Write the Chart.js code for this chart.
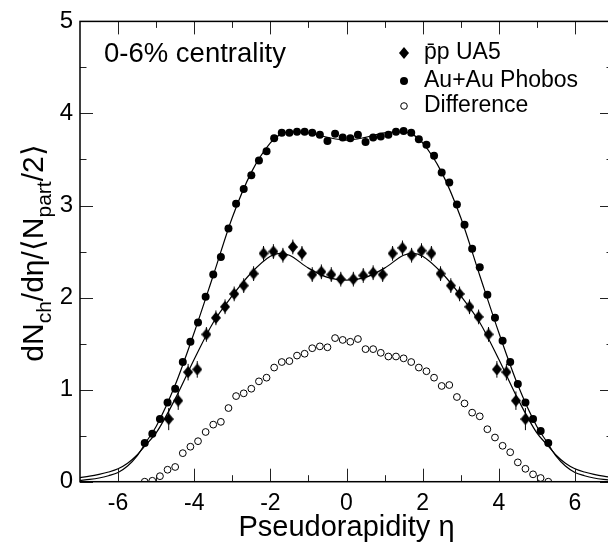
<!DOCTYPE html>
<html>
<head>
<meta charset="utf-8">
<script src="https://cdn.jsdelivr.net/npm/chart.js@4.4.0/dist/chart.umd.min.js"></script>
<style>
  html, body { margin: 0; padding: 0; background: #fff; overflow: hidden; }
  #wrap { width: 620px; height: 548px; }
</style>
</head>
<body>
<div id="wrap"><canvas id="chart" width="620" height="548"></canvas></div>
<script>
// Au+Au Phobos, 0-6% centrality
const phobosEta = [-5.3, -5.1, -4.9, -4.7, -4.5, -4.3, -4.1, -3.9, -3.7, -3.5, -3.3, -3.1, -2.9, -2.7,
  -2.5, -2.3, -2.1, -1.9, -1.7, -1.5, -1.3, -1.1, -0.9, -0.7, -0.5, -0.3, -0.1,
  0.1, 0.3, 0.5, 0.7, 0.9, 1.1, 1.3, 1.5, 1.7, 1.9, 2.1, 2.3, 2.5, 2.7,
  2.9, 3.1, 3.3, 3.5, 3.7, 3.9, 4.1, 4.3, 4.5, 4.7, 4.9, 5.1, 5.3];
const phobosVal = [0.42, 0.52, 0.68, 0.86, 1.01, 1.30, 1.52, 1.73, 2.01, 2.25, 2.44, 2.75, 3.02, 3.18,
  3.33, 3.49, 3.59, 3.73, 3.79, 3.79, 3.80, 3.80, 3.79, 3.77, 3.70, 3.78, 3.74,
  3.73, 3.77, 3.69, 3.74, 3.75, 3.77, 3.80, 3.81, 3.79, 3.72, 3.66, 3.54, 3.36, 3.25,
  3.01, 2.79, 2.53, 2.33, 2.03, 1.78, 1.53, 1.30, 1.06, 0.86, 0.68, 0.55, 0.42];

// Difference (Au+Au minus pp), same eta bins
const diffVal = [0.00, 0.01, 0.06, 0.13, 0.16, 0.31, 0.38, 0.44, 0.54, 0.62, 0.65, 0.80, 0.93, 0.96,
  1.01, 1.09, 1.13, 1.24, 1.30, 1.31, 1.37, 1.39, 1.45, 1.47, 1.46, 1.56, 1.54,
  1.52, 1.55, 1.44, 1.44, 1.40, 1.36, 1.36, 1.34, 1.30, 1.24, 1.20, 1.13, 1.04, 1.05,
  0.92, 0.85, 0.75, 0.71, 0.57, 0.48, 0.39, 0.32, 0.21, 0.14, 0.08, 0.04, 0.00];

// pp-bar UA5
const ua5Eta = [-4.67, -4.42, -4.16, -3.92, -3.68, -3.43, -3.19, -2.95, -2.70, -2.44, -2.18, -1.92,
  -1.67, -1.41, -1.17, -0.90, -0.66, -0.40, -0.15,
  0.18, 0.44, 0.70, 0.95, 1.21, 1.47, 1.71, 1.97, 2.23, 2.47, 2.74, 2.97, 3.23, 3.47, 3.73,
  3.95, 4.20, 4.45, 4.70];
const ua5Val = [0.68, 0.88, 1.19, 1.22, 1.60, 1.78, 1.90, 2.04, 2.13, 2.26, 2.48, 2.50,
  2.46, 2.55, 2.48, 2.25, 2.28, 2.25, 2.20,
  2.20, 2.24, 2.27, 2.25, 2.48, 2.54, 2.46, 2.51, 2.48, 2.26, 2.13, 2.04, 1.90, 1.79, 1.60,
  1.22, 1.19, 0.88, 0.68];
const ua5Err = [0.12, 0.10, 0.09, 0.09, 0.08, 0.08, 0.08, 0.08, 0.08, 0.08, 0.08, 0.08,
  0.08, 0.08, 0.08, 0.08, 0.08, 0.08, 0.08,
  0.08, 0.08, 0.08, 0.08, 0.08, 0.08, 0.08, 0.08, 0.08, 0.08, 0.08, 0.08, 0.08, 0.08, 0.08,
  0.09, 0.09, 0.10, 0.12];

const curveEta = [-7, -6.75, -6.5, -6.25, -6, -5.75, -5.5, -5.25, -5, -4.5, -4, -3.5, -3, -2.5, -2, -1.75,
  -1.5, -1, -0.5, 0, 0.5, 1, 1.5, 1.75, 2, 2.5, 3, 3.5, 4, 4.5, 5, 5.25, 5.5, 5.75, 6, 6.25, 6.5, 6.75, 7];
const phobosFit = [0.015, 0.025, 0.04, 0.065, 0.10, 0.17, 0.28, 0.44, 0.60, 1.05, 1.62, 2.24, 2.87, 3.36, 3.68, 3.77,
  3.80, 3.79, 3.74, 3.71, 3.74, 3.79, 3.80, 3.77, 3.68, 3.36, 2.87, 2.24, 1.62, 1.05, 0.60, 0.44, 0.28, 0.17, 0.10, 0.065, 0.04, 0.025, 0.015];
const ua5Fit = [0.045, 0.06, 0.08, 0.105, 0.14, 0.20, 0.29, 0.41, 0.53, 0.90, 1.33, 1.73, 2.02, 2.27, 2.45, 2.48,
  2.46, 2.32, 2.22, 2.19, 2.22, 2.32, 2.46, 2.48, 2.45, 2.27, 2.02, 1.73, 1.33, 0.90, 0.53, 0.41, 0.29, 0.20, 0.14, 0.105, 0.08, 0.06, 0.045];

const xTicks = [-6, -4, -2, 0, 2, 4, 6];
const xMinor = [-5, -3, -1, 1, 3, 5];
const yTicks = [0, 1, 2, 3, 4, 5];
const yMinor = [0.5, 1.5, 2.5, 3.5, 4.5];

const legendLabels = ['p\u0304p UA5', 'Au+Au Phobos', 'Difference'];
const note = '0-6% centrality';
const FONT = '"Liberation Sans", Arial, Helvetica, sans-serif';

const pts = (xs, ys) => xs.map((x, i) => ({ x: x, y: ys[i] }));

// a diamond a little taller than wide, used as point style
function diamond(w, h) {
  const c = document.createElement('canvas');
  c.width = w; c.height = h;
  const g = c.getContext('2d');
  g.fillStyle = '#000';
  g.beginPath();
  g.moveTo(w / 2, 0); g.lineTo(w, h / 2); g.lineTo(w / 2, h); g.lineTo(0, h / 2);
  g.closePath(); g.fill();
  return c;
}
const diamondMark = diamond(10, 12);

// error bars under the diamonds, then frame, ticks, titles, legend, note on top
const framePlugin = {
  id: 'frame',
  beforeDatasetsDraw(chart) {
    const ctx = chart.ctx;
    const meta = chart.getDatasetMeta(2);
    const ys = chart.scales.y;
    ctx.save();
    ctx.strokeStyle = '#000';
    ctx.lineWidth = 1;
    meta.data.forEach((p, i) => {
      ctx.beginPath();
      ctx.moveTo(p.x, ys.getPixelForValue(ua5Val[i] - ua5Err[i]));
      ctx.lineTo(p.x, ys.getPixelForValue(ua5Val[i] + ua5Err[i]));
      ctx.stroke();
    });
    ctx.restore();
  },
  afterDraw(chart) {
    const ctx = chart.ctx;
    const a = chart.chartArea;
    const xs = chart.scales.x, ys = chart.scales.y;
    ctx.save();
    ctx.strokeStyle = '#222';
    ctx.lineWidth = 1;
    const tick = (x1, y1, x2, y2) => { ctx.beginPath(); ctx.moveTo(x1, y1); ctx.lineTo(x2, y2); ctx.stroke(); };
    xTicks.forEach(v => { const x = Math.round(xs.getPixelForValue(v)) + 0.5; tick(x, a.bottom, x, a.bottom - 13); tick(x, a.top, x, a.top + 13); });
    xMinor.forEach(v => { const x = Math.round(xs.getPixelForValue(v)) + 0.5; tick(x, a.bottom, x, a.bottom - 6.5); tick(x, a.top, x, a.top + 6.5); });
    yTicks.forEach(v => { const y = Math.round(ys.getPixelForValue(v)) + 0.5; tick(a.left, y, a.left + 13, y); tick(a.right, y, a.right - 13, y); });
    yMinor.forEach(v => { const y = Math.round(ys.getPixelForValue(v)) + 0.5; tick(a.left, y, a.left + 6.5, y); tick(a.right, y, a.right - 6.5, y); });
    ctx.strokeStyle = '#000';
    ctx.lineWidth = 1.5;
    ctx.strokeRect(a.left, a.top, a.right - a.left, a.bottom - a.top);

    ctx.fillStyle = '#000';
    // x title
    ctx.font = '29px ' + FONT;
    ctx.textAlign = 'center';
    ctx.textBaseline = 'alphabetic';
    ctx.fillText('Pseudorapidity \u03b7', (a.left + a.right) / 2, 536);

    // y title with subscripts, rotated
    const parts = [['dN', 0], ['ch', 1], ['/d\u03b7/\u27e8N', 0], ['part', 1], ['/2\u27e9', 0]];
    const big = 30, small = 21;
    let total = 0;
    parts.forEach(p => { ctx.font = (p[1] ? small : big) + 'px ' + FONT; total += ctx.measureText(p[0]).width; });
    ctx.translate(43, 253);
    ctx.rotate(-Math.PI / 2);
    ctx.textAlign = 'left';
    let cx = -total / 2;
    parts.forEach(p => {
      ctx.font = (p[1] ? small : big) + 'px ' + FONT;
      ctx.fillText(p[0], cx, p[1] ? 8 : 0);
      cx += ctx.measureText(p[0]).width;
    });
    ctx.setTransform(1, 0, 0, 1, 0, 0);

    // note
    ctx.font = '27.5px ' + FONT;
    ctx.textBaseline = 'alphabetic';
    ctx.fillText(note, 104, 62);

    // legend
    ctx.font = '23px ' + FONT;
    ctx.textBaseline = 'middle';
    const ly = [53, 81, 106];
    legendLabels.forEach((t, i) => ctx.fillText(t, 424, ly[i]));
    const mx = 404;
    ctx.drawImage(diamondMark, mx - 5, ly[0] - 6);
    ctx.beginPath(); ctx.arc(mx, ly[1], 4, 0, Math.PI * 2); ctx.fill();
    ctx.lineWidth = 1;
    ctx.beginPath(); ctx.arc(mx, ly[2], 3.3, 0, Math.PI * 2); ctx.stroke();
    ctx.restore();
  }
};

new Chart(document.getElementById('chart'), {
  type: 'scatter',
  data: {
    datasets: [
      { label: 'Au+Au Phobos', data: pts(phobosEta, phobosVal), pointStyle: 'circle', pointRadius: 4,
        backgroundColor: '#000', borderColor: '#000', borderWidth: 0, order: 1 },
      { label: 'Difference', data: pts(phobosEta, diffVal), pointStyle: 'circle', pointRadius: 3.4,
        backgroundColor: '#fff', borderColor: '#000', borderWidth: 1, order: 2 },
      { label: 'pp UA5', data: pts(ua5Eta, ua5Val), pointStyle: diamondMark, pointRadius: 6,
        backgroundColor: '#000', borderColor: '#000', borderWidth: 0, order: 3 },
      { label: 'Phobos fit', type: 'line', data: pts(curveEta, phobosFit), borderColor: '#000', borderWidth: 1.2,
        pointRadius: 0, cubicInterpolationMode: 'monotone', fill: false, order: 4 },
      { label: 'UA5 fit', type: 'line', data: pts(curveEta, ua5Fit), borderColor: '#000', borderWidth: 1.2,
        pointRadius: 0, cubicInterpolationMode: 'monotone', fill: false, order: 5 }
    ]
  },
  options: {
    responsive: false,
    animation: false,
    layout: { padding: { top: 15, right: 7, left: 0, bottom: 0 } },
    plugins: { legend: { display: false }, tooltip: { enabled: false } },
    scales: {
      x: {
        type: 'linear', min: -7, max: 7,
        afterBuildTicks: s => { s.ticks = xTicks.map(v => ({ value: v })); },
        afterFit: s => { s.height = 66.3; },
        grid: { display: false, drawTicks: false },
        border: { display: false },
        ticks: { padding: 8, color: '#000', font: { family: FONT, size: 23 }, maxRotation: 0 }
      },
      y: {
        type: 'linear', min: 0, max: 5,
        afterBuildTicks: s => { s.ticks = yTicks.map(v => ({ value: v })); },
        afterFit: s => { s.width = 80; },
        grid: { display: false, drawTicks: false },
        border: { display: false },
        ticks: { padding: 7, color: '#000', font: { family: FONT, size: 24 } }
      }
    }
  },
  plugins: [framePlugin]
});
</script>
</body>
</html>
